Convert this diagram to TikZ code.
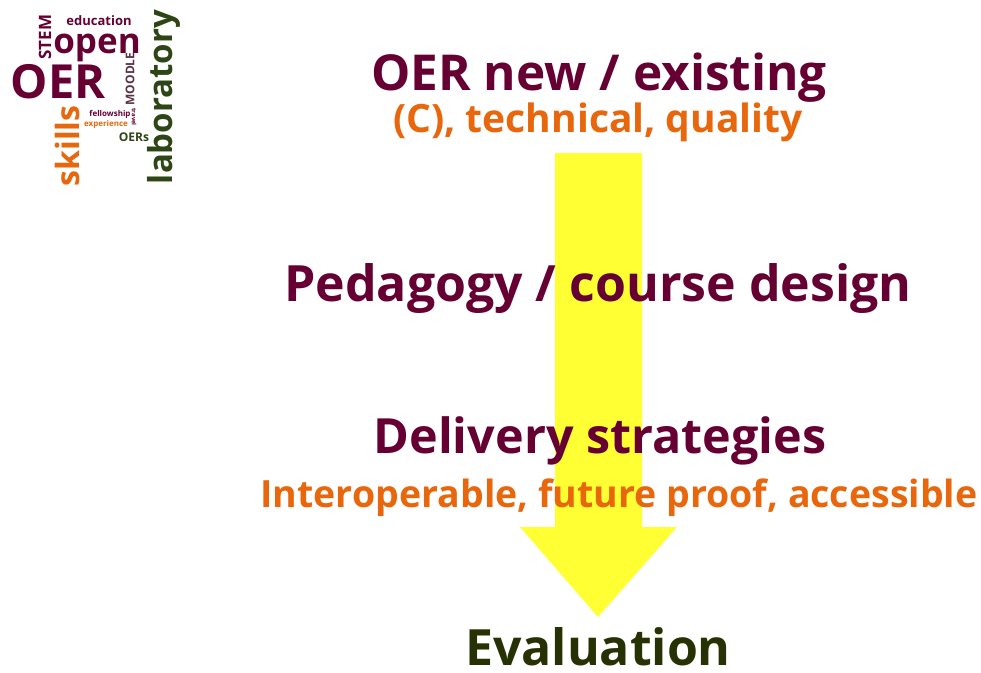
\documentclass[tikz,border=0pt]{standalone}
\usepackage{fontspec}
\setmainfont{Open Sans}
\definecolor{oermaroon}{RGB}{102,0,51}
\definecolor{oerorange}{RGB}{232,102,12}
\definecolor{evalgreen}{RGB}{38,50,4}
\definecolor{labgreen}{RGB}{46,70,22}
\definecolor{moodlegray}{RGB}{88,52,70}
\definecolor{arrowyellow}{RGB}{255,255,51}
\newcommand{\fs}[1]{\fontsize{#1}{#1}\selectfont}
\tikzset{
  title/.style={anchor=base, inner sep=0pt, font=\bfseries, text=oermaroon},
  subtitle/.style={anchor=base, inner sep=0pt, font=\bfseries, text=oerorange},
  cloud/.style={inner sep=0pt, font=\bfseries},
}
\begin{document}
\begin{tikzpicture}[x=1pt,y=-1pt]
\useasboundingbox (0,0) rectangle (981,672);
\fill[white] (0,0) rectangle (981,672);

% downward flow arrow
\fill[arrowyellow] (555,153) -- (642,153) -- (642,527) -- (677,527)
  -- (598,617) -- (520,527) -- (555,527) -- cycle;

% stages
\node[title] (oer) at (599,90) {\fs{49.5}OER new / existing};
\node[subtitle] (oersub) at (598,132) {\fs{39}(C), technical, quality};
\node[title] (ped) at (598,301) {\fs{50}Pedagogy / course design};
\node[title] (del) at (600,453) {\fs{48.5}Delivery strategies};
\node[subtitle] (delsub) at (619,507) {\fs{37.5}Interoperable, future proof, accessible};
\node[title, text=evalgreen] (eval) at (598,665) {\fs{50}Evaluation};

% word cloud
\node[cloud, text=oermaroon, anchor=base] (wEdu) at (99,25) {\fs{13}education};
\node[cloud, text=oermaroon, rotate=90] (wStem) at (45,37) {\fs{17}STEM};
\node[cloud, text=oermaroon, anchor=base] (wOpen) at (97,53) {\fs{35}open};
\node[cloud, text=oermaroon, anchor=base] (wOer) at (58,98) {\fs{47}OER};
\node[cloud, text=moodlegray, rotate=90] (wMoodle) at (130,79) {\fs{12}MOODLE};
\node[cloud, text=labgreen, rotate=90] (wLab) at (164,97) {\fs{33}laboratory};
\node[cloud, text=oerorange, rotate=90] (wSkills) at (67,146) {\fs{32}skills};
\node[cloud, text=oermaroon, anchor=base] (wFellow) at (110,116) {\fs{8}fellowship};
\node[cloud, text=oerorange, anchor=base] (wExp) at (106,126) {\fs{8}experience};
\node[cloud, text=oermaroon, rotate=-90] (wTravel) at (134,117) {\fs{6}travel};
\node[cloud, text=labgreen, anchor=base] (wOers) at (134,141) {\fs{12}OERs};
\end{tikzpicture}
\end{document}
